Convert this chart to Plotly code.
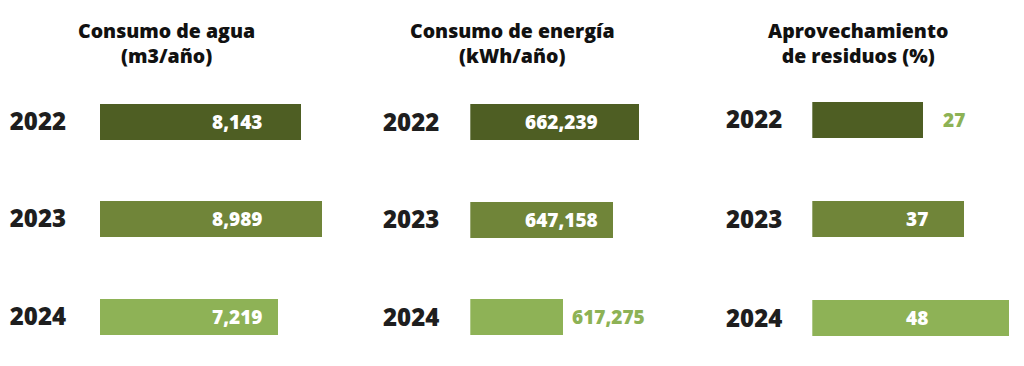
import plotly.graph_objects as go

# ---------------- data ----------------
years = ["2022", "2023", "2024"]
agua = [8143, 8989, 7219]
energia = [662239, 647158, 617275]
residuos = [27, 37, 48]
titles = ["Consumo de agua<br>(m3/año)",
          "Consumo de energía<br>(kWh/año)",
          "Aprovechamiento<br>de residuos (%)"]
label_place = [["in", "in", "in"],
               ["in", "in", "out"],
               ["out", "in", "in"]]

# ---------------- style ----------------
bar_colors = ["#4E5E23", "#708539", "#8EB256"]
out_color = "#8DB255"
dark = "#1E1E1E"
FONT = "Open Sans"
W, H = 1024, 366

# per panel layout (pixels)
panels = [
    dict(values=agua, x0=100.0, x1=340.0, rng=(0, 9718), yc=121.5, step=97.5,
         label_px=237, out_gap=10, standoff=33, title_px=166),
    dict(values=energia, x0=470.3, x1=672.0, rng=(562594, 681600), yc=122.2, step=97.5,
         label_px=561, out_gap=7, standoff=30, title_px=512),
    dict(values=residuos, x0=812.3, x1=1024.0, rng=(0, 51.58), yc=119.9, step=99.25,
         label_px=917, out_gap=18, standoff=29, title_px=858),
]

fig = go.Figure()
annotations = []

for i, p in enumerate(panels):
    sfx = "" if i == 0 else str(i + 1)
    xa, ya = "x" + sfx, "y" + sfx
    fig.add_trace(go.Bar(
        x=p["values"], y=years, orientation="h",
        marker=dict(color=bar_colors, line=dict(width=0)),
        width=36 / p["step"],
        xaxis=xa, yaxis=ya, hoverinfo="skip", showlegend=False,
    ))
    fig.layout["xaxis" + sfx] = dict(
        domain=[p["x0"] / W, p["x1"] / W], range=list(p["rng"]),
        visible=False, fixedrange=True, anchor=ya,
    )
    yc, st = p["yc"], p["step"]
    fig.layout["yaxis" + sfx] = dict(
        domain=[0, 1], type="category",
        range=[(H - yc) / st, -yc / st],
        showgrid=False, showline=False, zeroline=False, ticks="",
        ticklabelstandoff=p["standoff"],
        tickfont=dict(family=FONT, size=24, color=dark, weight=800),
        anchor=xa, fixedrange=True,
    )
    for j, (v, place) in enumerate(zip(p["values"], label_place[i])):
        txt = f"{v:,}"
        if place == "in":
            annotations.append(dict(
                x=p["label_px"] / W, xref="paper", y=j, yref=ya,
                text=txt, showarrow=False, xanchor="center", yanchor="middle",
                font=dict(family=FONT, size=19, color="white", weight=800)))
        else:
            annotations.append(dict(
                x=v, xref=xa, y=j, yref=ya, xshift=p["out_gap"],
                text=txt, showarrow=False, xanchor="left", yanchor="middle",
                font=dict(family=FONT, size=19, color=out_color, weight=800)))
    annotations.append(dict(
        x=p["title_px"] / W, xref="paper", y=1 - 43 / H, yref="paper",
        text=titles[i], showarrow=False, xanchor="center", yanchor="middle",
        align="center",
        font=dict(family=FONT, size=19.5, color="#111111", weight=800)))

fig.update_layout(
    width=W, height=H, margin=dict(l=0, r=0, t=0, b=0),
    paper_bgcolor="white", plot_bgcolor="white",
    annotations=annotations, bargap=0,
)

fig.write_html("out.html", config={"displayModeBar": False},
               post_script="document.body.style.margin='0';")
